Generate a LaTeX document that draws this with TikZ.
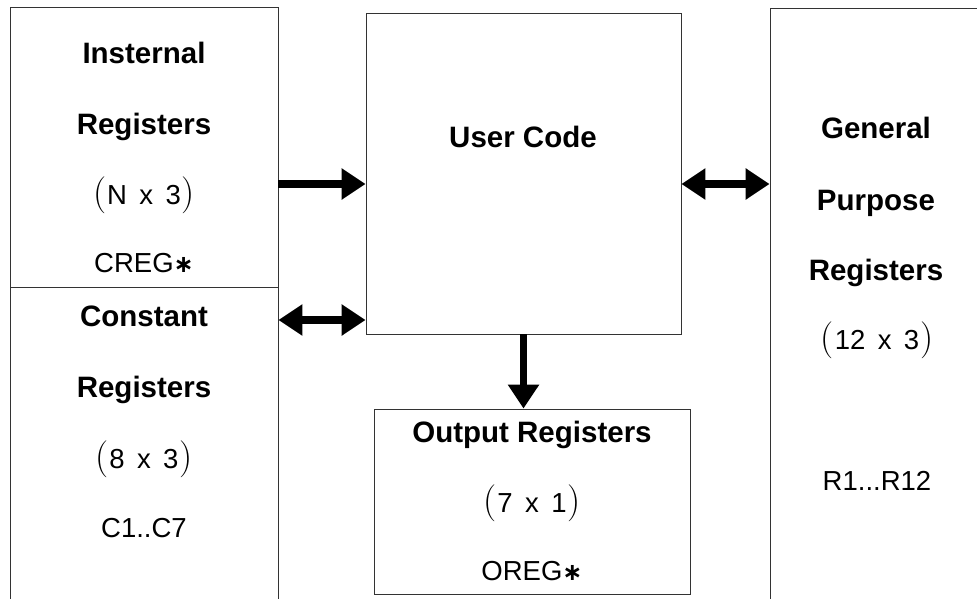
\documentclass[tikz,border=0pt]{standalone}
\usepackage{fontspec}
\setsansfont{Liberation Sans}
\newfontfamily\starfont{DejaVu Sans}
\usetikzlibrary{arrows.meta}

% thin roman parentheses around the register dimensions
\newcommand\parfont{\rmfamily\fontsize{37}{40}\selectfont}
\newcommand\dimtext[2]{{\parfont(}\hspace{1pt}#1\hspace{0.45em}x\hspace{0.45em}#2\hspace{1pt}{\parfont)}}
\newcommand\regstar{{\starfont\bfseries\fontsize{24}{28}\selectfont ∗}}

\tikzset{
  box/.style={draw=black!80, line width=0.9pt, inner sep=0pt},
  title/.style={anchor=base, inner sep=0pt, font=\sffamily\bfseries\fontsize{29.5}{34}\selectfont},
  plain/.style={anchor=base, inner sep=0pt, font=\sffamily\fontsize{27.5}{33}\selectfont},
  flow/.style={line width=7.5pt, draw=black},
  tip/.tip={Triangle[length=24pt, width=30pt]},
}

\begin{document}
\begin{tikzpicture}[x=1pt, y=-1pt]
  \useasboundingbox (0,0) rectangle (977,599);
  \fill[white] (0,0) rectangle (977,599);
  \clip (0,0) rectangle (977,599);

  % register blocks
  \node[box, minimum width=268pt, minimum height=280pt] (intl)  at (144,147)   {};
  \node[box, minimum width=268pt, minimum height=333pt] (const) at (144,453.5) {};
  \node[box, minimum width=315pt, minimum height=321pt] (user)  at (523.5,173.5) {};
  \node[box, minimum width=316pt, minimum height=185pt] (outp)  at (532,501.5) {};
  \node[box, minimum width=220pt, minimum height=612pt] (gpr)   at (880,314)   {};

  % internal registers
  \node[title] (intlA) at (144,64)  {Insternal};
  \node[title] (intlB) at (144,135) {Registers};
  \node[plain] (intlC) at (144,204) {\dimtext{N}{3}};
  \node[plain] (intlD) at (144,272) {CREG\regstar};

  % constant registers
  \node[title] (constA) at (144,326) {Constant};
  \node[title] (constB) at (144,397) {Registers};
  \node[plain] (constC) at (144,468) {\dimtext{8}{3}};
  \node[plain] (constD) at (144,537) {C1..C7};

  % user code
  \node[title] (userA) at (523,147) {User Code};

  % output registers
  \node[title] (outpA) at (532,442) {Output Registers};
  \node[plain] (outpB) at (532,512) {\dimtext{7}{1}};
  \node[plain] (outpC) at (532,580) {OREG\regstar};

  % general purpose registers
  \node[title] (gprA) at (876,139) {General};
  \node[title] (gprB) at (876,210) {Purpose};
  \node[title] (gprC) at (876,280) {Registers};
  \node[plain] (gprD) at (877,349) {\dimtext{12}{3}};
  \node[plain] (gprE) at (877,490) {R1...R12};

  % data paths
  \coordinate (rowA) at (0,184);
  \coordinate (rowB) at (0,320);
  \draw[flow, -tip]    (intl.east  |- rowA) -- (user.west |- rowA);
  \draw[flow, tip-tip] (const.east |- rowB) -- (user.west |- rowB);
  \draw[flow, tip-tip] (user.east  |- rowA) -- (gpr.west  |- rowA);
  \draw[flow, -tip]    (user.south) -- (user.south |- outp.north);
\end{tikzpicture}
\end{document}
